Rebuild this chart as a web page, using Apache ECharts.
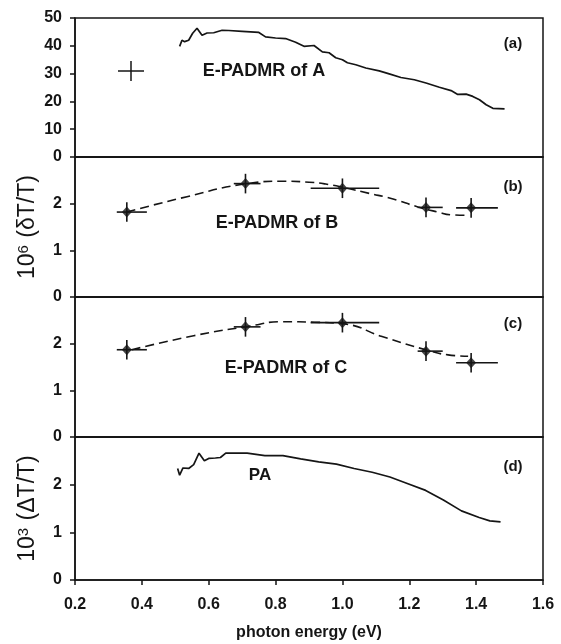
<!DOCTYPE html>
<html><head><meta charset="utf-8">
<script src="https://cdn.jsdelivr.net/npm/echarts@6/dist/echarts.min.js"></script>
<style>html,body{margin:0;padding:0;background:#fff}#c{width:561px;height:644px}</style>
</head><body><div id="c"></div>
<script>
// ---- data ----
const xTickLabels = ['0.2','0.4','0.6','0.8','1.0','1.2','1.4','1.6'];
const specAx = [0.513,0.52,0.528,0.54,0.552,0.565,0.58,0.595,0.615,0.64,0.66,0.70,0.75,0.77,0.80,0.83,0.86,0.885,0.915,0.94,0.96,0.98,1.00,1.015,1.04,1.07,1.11,1.14,1.175,1.215,1.25,1.29,1.325,1.345,1.37,1.39,1.41,1.43,1.45,1.485];
const specAy = [39.8,42.0,41.5,42.0,44.5,46.3,43.8,44.6,44.7,45.6,45.5,45.2,44.8,43.2,42.8,42.6,41.3,39.8,40.1,37.8,37.5,35.7,35.0,33.9,33.2,32.0,31.0,29.9,28.6,27.8,26.6,25.1,23.9,22.5,22.6,21.8,20.6,18.8,17.5,17.3];
const specDx = [0.507,0.513,0.523,0.54,0.555,0.571,0.587,0.60,0.62,0.635,0.651,0.715,0.768,0.822,0.875,0.929,0.982,1.035,1.089,1.142,1.196,1.249,1.302,1.356,1.409,1.441,1.473];
const specDy = [2.34,2.2,2.35,2.34,2.42,2.66,2.50,2.55,2.56,2.57,2.66,2.66,2.61,2.61,2.54,2.48,2.43,2.34,2.26,2.16,2.02,1.88,1.68,1.45,1.31,1.24,1.22];
const ptX = [0.355,0.71,1.0,1.25,1.385];
const ptXLow = [0.325,0.675,0.905,1.225,1.34];
const ptXHigh = [0.415,0.755,1.11,1.30,1.465];
const bY = [1.82,2.43,2.33,1.92,1.91];
const bYErr = [0.21,0.21,0.21,0.21,0.21];
const cY = [1.87,2.36,2.45,1.84,1.59];
const cYErr = [0.21,0.21,0.21,0.21,0.21];
const fitBx = [0.355,0.535,0.716,0.82,0.9,0.95,1.008,1.08,1.146,1.226,1.286,1.326,1.371];
const fitBy = [1.82,2.15,2.43,2.48,2.46,2.42,2.34,2.22,2.11,1.93,1.82,1.76,1.75];
const fitCx = [0.37,0.555,0.717,0.82,0.916,1.008,1.116,1.263,1.316,1.376];
const fitCy = [1.87,2.17,2.37,2.47,2.46,2.42,2.16,1.84,1.76,1.73];

const FONT = 'Liberation Sans, Arial, sans-serif';
const INK = '#151515';
const grids = [
  {left:75, right:18, top:18, height:139},
  {left:75, right:18, top:157, height:140},
  {left:75, right:18, top:297, height:140},
  {left:75, right:18, top:437, height:143}
].map(g => Object.assign({show:true, borderColor:INK, borderWidth:1.5, backgroundColor:'transparent'}, g));

const xAxes = grids.map((g,i) => ({
  type:'value', gridIndex:i, min:0.2, max:1.6, interval:0.2,
  axisLine:{show:true, lineStyle:{color:INK, width:1.5}},
  axisTick:{show:i===3, inside:false, length:5, lineStyle:{color:INK, width:1.5}},
  axisLabel:{show:i===3, margin:17, color:INK, fontFamily:FONT, fontWeight:'bold', fontSize:16,
    formatter:(v)=>xTickLabels[Math.round((v-0.2)/0.2)] || ''},
  splitLine:{show:false},
  name: i===3 ? 'photon energy (eV)' : '', nameLocation:'middle', nameGap:45,
  nameTextStyle:{color:INK, fontFamily:FONT, fontWeight:'bold', fontSize:16}
}));

function yAx(i, max, interval, name){
  return {
    type:'value', gridIndex:i, min:0, max:max, interval:interval,
    axisLine:{show:true, lineStyle:{color:INK, width:1.5}},
    axisTick:{show:true, inside:false, length:5, lineStyle:{color:INK, width:1.5}},
    axisLabel:{margin:13, color:INK, fontFamily:FONT, fontWeight:'bold', fontSize:16,
      formatter:(v)=> (i>0 && v===max) ? '' : String(v)},
    splitLine:{show:false},
    name:name||'', nameLocation:'middle', nameGap:35, nameRotate:90,
    nameTextStyle:{color:INK, fontFamily:FONT, fontSize:23,
      rich:{a:{fontFamily:FONT, fontSize:23, color:INK}, s:{fontFamily:FONT, fontSize:15, color:INK, verticalAlign:'top', padding:[0,1,9,0]}}}
  };
}
const yAxes = [
  yAx(0,50,10),
  yAx(1,3,1,'{a|10}{s|6}{a| (δT/T)}'),
  yAx(2,3,1),
  yAx(3,3,1,'{a|10}{s|3}{a| (ΔT/T)}')
];

function errSeries(idx, ys, yerr){
  return {
    type:'custom', xAxisIndex:idx, yAxisIndex:idx, z:3,
    data: ptX.map((x,i)=>[x, ys[i], ptXLow[i], ptXHigh[i], yerr[i]]),
    renderItem:(params, api)=>{
      const x=api.value(0), y=api.value(1), xl=api.value(2), xh=api.value(3), e=api.value(4);
      const a=api.coord([xl,y]), b=api.coord([xh,y]), c=api.coord([x,y-e]), d=api.coord([x,y+e]);
      const st={stroke:INK, lineWidth:1.6};
      return {type:'group', children:[
        {type:'line', shape:{x1:a[0],y1:a[1],x2:b[0],y2:b[1]}, style:st},
        {type:'line', shape:{x1:c[0],y1:c[1],x2:d[0],y2:d[1]}, style:st}
      ]};
    }
  };
}
function ptSeries(idx, ys){
  return {type:'scatter', xAxisIndex:idx, yAxisIndex:idx, z:4, symbol:'diamond', symbolSize:[10,11],
    itemStyle:{color:INK}, data: ptX.map((x,i)=>[x, ys[i]])};
}
function fitSeries(idx, xs, ys){
  return {type:'line', xAxisIndex:idx, yAxisIndex:idx, smooth:0.5, showSymbol:false, z:2,
    lineStyle:{color:INK, width:1.6, type:[9,5]}, data: xs.map((x,i)=>[x, ys[i]])};
}

const txt = (x,y,t,size)=>({type:'text', x:x, y:y,
  style:{text:t, fill:INK, font:'bold '+size+'px '+FONT, textAlign:'center', textVerticalAlign:'middle'}});

const option = {
  animation:false,
  backgroundColor:'#fff',
  grid: grids,
  xAxis: xAxes,
  yAxis: yAxes,
  series: [
    {type:'line', xAxisIndex:0, yAxisIndex:0, showSymbol:false, lineStyle:{color:INK, width:1.7},
      data: specAx.map((x,i)=>[x, specAy[i]])},
    fitSeries(1, fitBx, fitBy), errSeries(1, bY, bYErr), ptSeries(1, bY),
    fitSeries(2, fitCx, fitCy), errSeries(2, cY, cYErr), ptSeries(2, cY),
    {type:'line', xAxisIndex:3, yAxisIndex:3, showSymbol:false, lineStyle:{color:INK, width:1.7},
      data: specDx.map((x,i)=>[x, specDy[i]])}
  ],
  graphic: [
    {type:'group', x:131, y:71, children:[
      {type:'line', shape:{x1:-13,y1:0,x2:13,y2:0}, style:{stroke:INK, lineWidth:1.5}},
      {type:'line', shape:{x1:0,y1:-10,x2:0,y2:10}, style:{stroke:INK, lineWidth:1.5}}
    ]},
    txt(264,71,'E-PADMR of A',18),
    txt(277,223,'E-PADMR of B',18),
    txt(286,368,'E-PADMR of C',18),
    txt(260,475,'PA',17),
    txt(513,44,'(a)',15),
    txt(513,187,'(b)',15),
    txt(513,324,'(c)',15),
    txt(513,467,'(d)',15)
  ]
};
const chart = echarts.init(document.getElementById('c'), null, {renderer:'canvas'});
chart.setOption(option);
</script></body></html>
